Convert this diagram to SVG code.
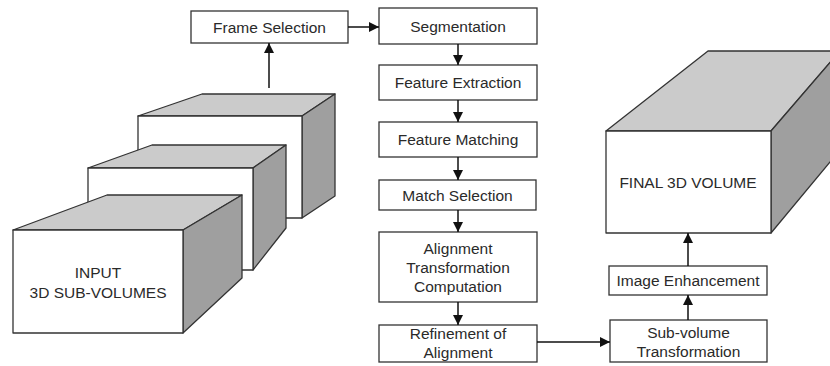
<svg xmlns="http://www.w3.org/2000/svg" width="830" height="366" viewBox="0 0 830 366">
  <style>
    .box { fill: #ffffff; stroke: #333333; stroke-width: 1.3; }
    .front { fill: #ffffff; stroke: #333333; stroke-width: 1.3; stroke-linejoin: round; }
    .top { fill: #cbcbcb; stroke: #333333; stroke-width: 1.3; stroke-linejoin: round; }
    .side { fill: #9f9f9f; stroke: #333333; stroke-width: 1.3; stroke-linejoin: round; }
    .label { font-family: "Liberation Sans", Arial, sans-serif; font-size: 15.5px; fill: #2a2a2a; text-anchor: middle; }
    .edge { fill: none; stroke: #111111; stroke-width: 1.5; marker-end: url(#arrow); }
  </style>
  <defs>
    <marker id="arrow" viewBox="0 0 10 10" refX="10" refY="5" markerWidth="11" markerHeight="10" markerUnits="userSpaceOnUse" orient="auto">
      <path d="M0,0 L10,5 L0,10 z" fill="#111111"/>
    </marker>
  </defs>

  <!-- stacked input sub-volumes, back to front -->
  <g id="subvolume-back">
    <polygon class="top" points="138,116 202,94 335,94 302,116"/>
    <polygon class="side" points="302,116 335,94 335,196 302,218"/>
    <polygon class="front" points="138,116 302,116 302,218 138,218"/>
  </g>
  <g id="subvolume-middle">
    <polygon class="top" points="88,168 152,145 286,145 253,168"/>
    <polygon class="side" points="253,168 286,145 286,228 253,270"/>
    <polygon class="front" points="88,168 253,168 253,270 88,270"/>
  </g>
  <g id="input-volumes">
    <polygon class="top" points="13,230 107,195 242,195 183,230"/>
    <polygon class="side" points="183,230 242,195 242,278 183,333"/>
    <polygon class="front" points="13,230 183,230 183,333 13,333"/>
    <text class="label" x="98" y="278">INPUT</text>
    <text class="label" x="98" y="298">3D SUB-VOLUMES</text>
  </g>

  <!-- processing pipeline -->
  <g id="frame-selection">
    <rect class="box" x="191" y="11" width="157" height="32"/>
    <text class="label" x="269.5" y="32.5">Frame Selection</text>
  </g>
  <g id="segmentation">
    <rect class="box" x="379" y="8" width="158" height="36"/>
    <text class="label" x="458" y="31.5">Segmentation</text>
  </g>
  <g id="feature-extraction">
    <rect class="box" x="379" y="65" width="158" height="35"/>
    <text class="label" x="458" y="88">Feature Extraction</text>
  </g>
  <g id="feature-matching">
    <rect class="box" x="379" y="122" width="158" height="35"/>
    <text class="label" x="458" y="145">Feature Matching</text>
  </g>
  <g id="match-selection">
    <rect class="box" x="379" y="180" width="157" height="30"/>
    <text class="label" x="457.5" y="200.5">Match Selection</text>
  </g>
  <g id="alignment-computation">
    <rect class="box" x="379" y="232" width="158" height="70"/>
    <text class="label" x="458" y="254">Alignment</text>
    <text class="label" x="458" y="273">Transformation</text>
    <text class="label" x="458" y="292">Computation</text>
  </g>
  <g id="refinement">
    <rect class="box" x="379" y="325" width="158" height="37"/>
    <text class="label" x="458" y="339">Refinement of</text>
    <text class="label" x="458" y="358">Alignment</text>
  </g>
  <g id="subvolume-transformation">
    <rect class="box" x="610" y="320" width="157" height="42"/>
    <text class="label" x="688.5" y="338">Sub-volume</text>
    <text class="label" x="688.5" y="356.5">Transformation</text>
  </g>
  <g id="image-enhancement">
    <rect class="box" x="609" y="266" width="158" height="29"/>
    <text class="label" x="688" y="286">Image Enhancement</text>
  </g>

  <!-- output volume -->
  <g id="final-volume">
    <polygon class="top" points="606,131 708,51 840,51 771,131"/>
    <polygon class="side" points="771,131 840,51 840,150 771,233"/>
    <polygon class="front" points="606,131 771,131 771,233 606,233"/>
    <text class="label" x="688" y="188">FINAL 3D VOLUME</text>
  </g>

  <g id="connectors">
    <line class="edge" x1="269" y1="88" x2="269" y2="43"/>
    <line class="edge" x1="348" y1="27" x2="379" y2="27"/>
    <line class="edge" x1="458" y1="44" x2="458" y2="65"/>
    <line class="edge" x1="458" y1="100" x2="458" y2="122"/>
    <line class="edge" x1="458" y1="157" x2="458" y2="180"/>
    <line class="edge" x1="458" y1="210" x2="458" y2="232"/>
    <line class="edge" x1="458" y1="302" x2="458" y2="325"/>
    <line class="edge" x1="537" y1="342" x2="610" y2="342"/>
    <line class="edge" x1="688" y1="320" x2="688" y2="295"/>
    <line class="edge" x1="688" y1="266" x2="688" y2="233"/>
  </g>
</svg>
